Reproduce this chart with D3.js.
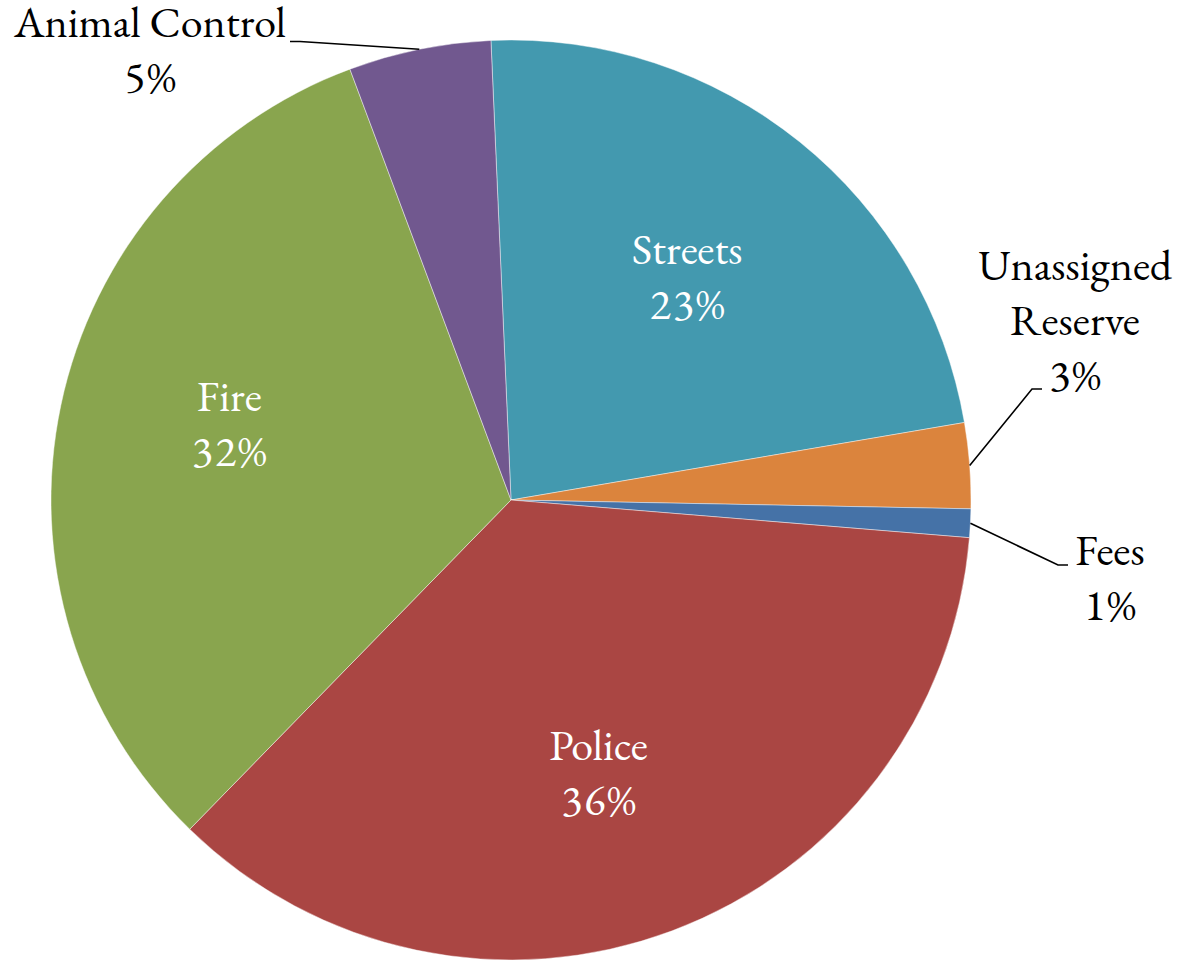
<!DOCTYPE html>
<html>
<head>
<meta charset="utf-8">
<script src="https://cdn.jsdelivr.net/npm/d3@7"></script>
<style>
  html, body { margin: 0; padding: 0; background: #ffffff; }
  svg { display: block; }
  text { font-variant-numeric: lining-nums; font-feature-settings: "lnum" 1; }
  tspan.pct { letter-spacing: 2px; }
</style>
</head>
<body>
<svg id="chart" width="1179" height="961"></svg>
<script>
// Budget share by department (percent of total)
const categories = ["Streets", "Unassigned Reserve", "Fees", "Police", "Fire", "Animal Control"];
const shares = [23, 3, 1, 36, 32, 5];
const sliceColors = ["#4399AF", "#DB843D", "#4572A7", "#AA4643", "#89A54E", "#71588F"];
// How each category name is broken over lines in its label
const labelLines = [["Streets"], ["Unassigned", "Reserve"], ["Fees"], ["Police"], ["Fire"], ["Animal Control"]];

const svg = d3.select("#chart");
const cx = 511, cy = 500, R = 460;
const rotation = -2.5 * Math.PI / 180;
const fontSize = 44, lineGap = 55;
const fontFamily = "'EB Garamond', 'Liberation Serif', serif";

const data = categories.map((name, i) => ({ name, value: shares[i], color: sliceColors[i], lines: labelLines[i] }));

const pie = d3.pie().sort(null).value(d => d.value)
  .startAngle(rotation).endAngle(rotation + 2 * Math.PI);
const arcs = pie(data);

const arc = d3.arc().innerRadius(0).outerRadius(R);
const labelArc = d3.arc().innerRadius(290).outerRadius(290);

const g = svg.append("g").attr("transform", `translate(${cx},${cy})`);

g.selectAll("path.slice")
  .data(arcs)
  .join("path")
  .attr("class", "slice")
  .attr("d", arc)
  .attr("fill", d => d.data.color)
  .attr("stroke", "rgba(255,255,255,0.55)")
  .attr("stroke-width", 0.8);

// Labels placed inside their slices
const insideNudge = { "Streets": [-6, 3], "Police": [-14, 2], "Fire": [2, -16] };
const percentText = d => d.data.value + "%";

arcs.filter(d => insideNudge[d.data.name]).forEach(d => {
  const [x, y] = labelArc.centroid(d);
  const [nx, ny] = insideNudge[d.data.name];
  const mid = y + ny + 14;
  const t = g.append("text")
    .attr("text-anchor", "middle")
    .attr("font-family", fontFamily)
    .attr("font-size", fontSize)
    .attr("fill", "#ffffff");
  t.append("tspan").attr("x", x + nx).attr("y", mid - lineGap / 2).text(d.data.lines[0]);
  t.append("tspan").attr("class", "pct").attr("x", x + nx + 1).attr("y", mid + lineGap / 2).text(percentText(d));
});

// Labels placed outside, joined to their slices by leader lines
// anchor: centre x and first baseline of the label; elbow/end: leader line bend and end point
const outside = {
  "Animal Control":     { anchor: [150, 37],  elbow: [300, 41.5], end: [290, 41.5] },
  "Unassigned Reserve": { anchor: [1075, 280], elbow: [1032, 389], end: [1042, 389] },
  "Fees":               { anchor: [1110, 565], elbow: [1058, 565], end: [1068, 565] }
};

arcs.filter(d => outside[d.data.name]).forEach(d => {
  const o = outside[d.data.name];
  const a = (d.startAngle + d.endAngle) / 2;
  const edge = [R * Math.sin(a), -R * Math.cos(a)];
  const pts = [edge, [o.elbow[0] - cx, o.elbow[1] - cy], [o.end[0] - cx, o.end[1] - cy]];
  g.append("path")
    .attr("d", d3.line()(pts))
    .attr("fill", "none")
    .attr("stroke", "#000000")
    .attr("stroke-width", 1.6);

  const lines = d.data.lines.concat([percentText(d)]);
  const t = svg.append("text")
    .attr("text-anchor", "middle")
    .attr("font-family", fontFamily)
    .attr("font-size", fontSize)
    .attr("fill", "#000000");
  lines.forEach((s, i) => {
    const isPct = i === lines.length - 1;
    t.append("tspan")
      .attr("class", isPct ? "pct" : null)
      .attr("x", o.anchor[0] + (isPct ? 1 : 0))
      .attr("y", o.anchor[1] + i * lineGap)
      .text(s);
  });
});
</script>
</body>
</html>
